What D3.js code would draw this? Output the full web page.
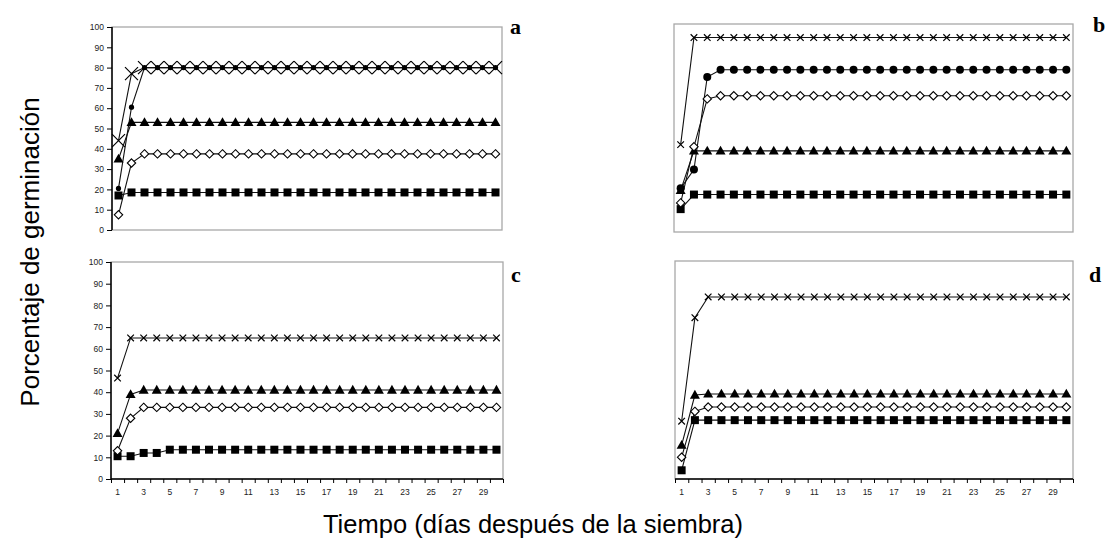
<!DOCTYPE html>
<html><head><meta charset="utf-8">
<script src="https://cdn.jsdelivr.net/npm/d3@7"></script>
<style>body{margin:0;background:#fff}svg{display:block}</style>
</head><body>
<svg id="c" width="1108" height="544"></svg>
<script>
const days = [1,2,3,4,5,6,7,8,9,10,11,12,13,14,15,16,17,18,19,20,21,22,23,24,25,26,27,28,29,30];
const xTickLabels = ["1","3","5","7","9","11","13","15","17","19","21","23","25","27","29"];
const yTickLabels = [0,10,20,30,40,50,60,70,80,90,100];
const panelLetters = ["a","b","c","d"];

// Panel a
const aSquare   = [17,18.5,18.5,18.5,18.5,18.5,18.5,18.5,18.5,18.5,18.5,18.5,18.5,18.5,18.5,18.5,18.5,18.5,18.5,18.5,18.5,18.5,18.5,18.5,18.5,18.5,18.5,18.5,18.5,18.5];
const aDiamond  = [7.5,33,37.5,37.5,37.5,37.5,37.5,37.5,37.5,37.5,37.5,37.5,37.5,37.5,37.5,37.5,37.5,37.5,37.5,37.5,37.5,37.5,37.5,37.5,37.5,37.5,37.5,37.5,37.5,37.5];
const aTriangle = [35,53,53,53,53,53,53,53,53,53,53,53,53,53,53,53,53,53,53,53,53,53,53,53,53,53,53,53,53,53];
const aCircle   = [20.5,60.5,80,80,80,80,80,80,80,80,80,80,80,80,80,80,80,80,80,80,80,80,80,80,80,80,80,80,80,80];
const aCross    = [44,77,80,80,80,80,80,80,80,80,80,80,80,80,80,80,80,80,80,80,80,80,80,80,80,80,80,80,80,80];
// Panel b
const bSquare   = [11,18,18,18,18,18,18,18,18,18,18,18,18,18,18,18,18,18,18,18,18,18,18,18,18,18,18,18,18,18];
const bDiamond  = [14,41,64,65.5,65.5,65.5,65.5,65.5,65.5,65.5,65.5,65.5,65.5,65.5,65.5,65.5,65.5,65.5,65.5,65.5,65.5,65.5,65.5,65.5,65.5,65.5,65.5,65.5,65.5,65.5];
const bTriangle = [20,39,39,39,39,39,39,39,39,39,39,39,39,39,39,39,39,39,39,39,39,39,39,39,39,39,39,39,39,39];
const bCircle   = [21,30,74.5,78,78,78,78,78,78,78,78,78,78,78,78,78,78,78,78,78,78,78,78,78,78,78,78,78,78,78];
const bCross    = [42,93.5,93.5,93.5,93.5,93.5,93.5,93.5,93.5,93.5,93.5,93.5,93.5,93.5,93.5,93.5,93.5,93.5,93.5,93.5,93.5,93.5,93.5,93.5,93.5,93.5,93.5,93.5,93.5,93.5];
// Panel c
const cSquare   = [10.5,10.5,12,12,13.5,13.5,13.5,13.5,13.5,13.5,13.5,13.5,13.5,13.5,13.5,13.5,13.5,13.5,13.5,13.5,13.5,13.5,13.5,13.5,13.5,13.5,13.5,13.5,13.5,13.5];
const cDiamond  = [13,28,33,33,33,33,33,33,33,33,33,33,33,33,33,33,33,33,33,33,33,33,33,33,33,33,33,33,33,33];
const cTriangle = [21,39,41,41,41,41,41,41,41,41,41,41,41,41,41,41,41,41,41,41,41,41,41,41,41,41,41,41,41,41];
const cCross    = [46.5,65,65,65,65,65,65,65,65,65,65,65,65,65,65,65,65,65,65,65,65,65,65,65,65,65,65,65,65,65];
// Panel d
const dSquare   = [4,27,27,27,27,27,27,27,27,27,27,27,27,27,27,27,27,27,27,27,27,27,27,27,27,27,27,27,27,27];
const dDiamond  = [10,31,33,33,33,33,33,33,33,33,33,33,33,33,33,33,33,33,33,33,33,33,33,33,33,33,33,33,33,33];
const dTriangle = [15.5,38.5,39,39,39,39,39,39,39,39,39,39,39,39,39,39,39,39,39,39,39,39,39,39,39,39,39,39,39,39];
const dCross    = [26.5,74,83.5,83.5,83.5,83.5,83.5,83.5,83.5,83.5,83.5,83.5,83.5,83.5,83.5,83.5,83.5,83.5,83.5,83.5,83.5,83.5,83.5,83.5,83.5,83.5,83.5,83.5,83.5,83.5];

const panels = [
  {letter:"a", box:[112,27,502,230], yLabels:true, xLabels:false, leftBlack:true, bottomBlack:false, crossSize:6.5, circleR:2.6,
   series:[["square",aSquare],["diamond",aDiamond],["triangle",aTriangle],["circle",aCircle],["cross",aCross]], letterPos:[510,34]},
  {letter:"b", box:[674,24,1073,232], yLabels:false, xLabels:false, leftBlack:false, bottomBlack:false, crossSize:3.3, circleR:4,
   series:[["square",bSquare],["triangle",bTriangle],["circle",bCircle],["diamond",bDiamond],["cross",bCross]], letterPos:[1093,32]},
  {letter:"c", box:[111,262,503,479], yLabels:true, xLabels:true, leftBlack:true, bottomBlack:true, crossSize:3.3, circleR:4,
   series:[["square",cSquare],["diamond",cDiamond],["triangle",cTriangle],["cross",cCross]], letterPos:[511,282]},
  {letter:"d", box:[675,261,1073,479], yLabels:false, xLabels:true, leftBlack:false, bottomBlack:true, crossSize:3.3, circleR:4,
   series:[["square",dSquare],["diamond",dDiamond],["triangle",dTriangle],["cross",dCross]], letterPos:[1089,282]}
];

const svg = d3.select("#c");
const FONT = "Liberation Sans, Arial, sans-serif";

panels.forEach(p => {
  const [x0,y0,x1,y1] = p.box;
  const x = d3.scaleBand().domain(days).range([x0,x1]);
  const y = d3.scaleLinear().domain([0,100]).range([y1,y0]);
  const g = svg.append("g");

  g.append("rect").attr("x",x0).attr("y",y0).attr("width",x1-x0).attr("height",y1-y0)
    .attr("fill","none").attr("stroke","#a8a8a8").attr("stroke-width",1.3);

  if (p.leftBlack) {
    const ya = d3.axisLeft(y).tickValues(yTickLabels).tickSize(5).tickPadding(3);
    const ag = g.append("g").attr("transform",`translate(${x0},0)`).call(ya);
    ag.select(".domain").attr("stroke","#000").attr("stroke-width",1.5).attr("d",`M0,${y1}V${y0}`);
    ag.selectAll(".tick line").attr("stroke","#000");
    ag.selectAll("text").attr("font-family",FONT).attr("font-size",8.5).attr("fill","#222");
    if (!p.yLabels) ag.selectAll("text").remove();
  }
  if (p.bottomBlack) {
    const xb = d3.scaleLinear().domain([0,30]).range([x0,x1]);
    const xa = d3.axisBottom(xb).tickValues(d3.range(0,31)).tickSize(4).tickFormat("");
    const bg = g.append("g").attr("transform",`translate(0,${y1})`).call(xa);
    bg.select(".domain").attr("stroke","#000").attr("stroke-width",1.5).attr("d",`M${x0},0H${x1}`);
    bg.selectAll(".tick line").attr("stroke","#000");
    if (p.xLabels) {
      g.selectAll(".xl").data(xTickLabels).enter().append("text")
        .attr("x",d=>x(+d)+x.bandwidth()/2).attr("y",y1+16)
        .attr("text-anchor","middle").attr("font-family",FONT).attr("font-size",8.5).attr("fill","#222")
        .text(d=>d);
    }
  }

  const line = d3.line().x((d,i)=>x(days[i])+x.bandwidth()/2).y(d=>y(d));
  p.series.forEach(([shape, vals]) => {
    g.append("path").attr("d",line(vals)).attr("fill","none").attr("stroke","#111").attr("stroke-width",1.1);
  });
  p.series.forEach(([shape, vals]) => {
    const mg = g.append("g");
    vals.forEach((v,i) => {
      const cx = x(days[i])+x.bandwidth()/2, cy = y(v);
      if (shape==="square") {
        mg.append("path").attr("d",d3.symbol(d3.symbolSquare,64)()).attr("transform",`translate(${cx},${cy})`).attr("fill","#000");
      } else if (shape==="triangle") {
        mg.append("path").attr("d",`M0,-5.2L5,3.6L-5,3.6Z`).attr("transform",`translate(${cx},${cy})`).attr("fill","#000");
      } else if (shape==="diamond") {
        mg.append("path").attr("d",`M0,-4.2L4.2,0L0,4.2L-4.2,0Z`).attr("transform",`translate(${cx},${cy})`).attr("fill","#fff").attr("stroke","#000").attr("stroke-width",1.1);
      } else if (shape==="circle") {
        mg.append("circle").attr("cx",cx).attr("cy",cy).attr("r",p.circleR).attr("fill","#000");
      } else if (shape==="cross") {
        const s = p.crossSize;
        mg.append("path").attr("d",`M${-s},${-s}L${s},${s}M${-s},${s}L${s},${-s}`).attr("transform",`translate(${cx},${cy})`).attr("stroke","#000").attr("stroke-width",1.2).attr("fill","none");
      }
    });
  });

  svg.append("text").attr("x",p.letterPos[0]).attr("y",p.letterPos[1])
    .attr("font-family","Liberation Serif, Times New Roman, serif").attr("font-weight","bold").attr("font-size",22)
    .text(p.letter);
});

svg.append("text").attr("transform","translate(39,252) rotate(-90)").attr("text-anchor","middle")
  .attr("font-family",FONT).attr("font-size",26).attr("fill","#000").text("Porcentaje de germinación");
svg.append("text").attr("x",533).attr("y",533).attr("text-anchor","middle")
  .attr("font-family",FONT).attr("font-size",25.5).attr("fill","#000").text("Tiempo (días después de la siembra)");
</script>
</body></html>
